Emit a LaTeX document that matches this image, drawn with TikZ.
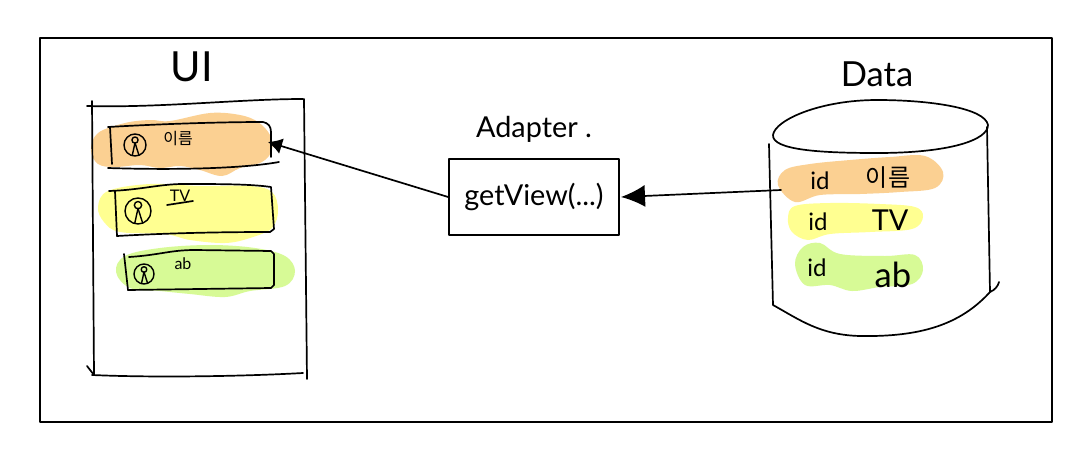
\documentclass[tikz,border=0pt]{standalone}
\usepackage{fontspec}
\setmainfont{Lato}
\newfontfamily\krfont{Noto Sans CJK KR}
\usetikzlibrary{arrows.meta}
\definecolor{blobOrange}{RGB}{251,208,146}
\definecolor{blobYellow}{RGB}{255,255,145}
\definecolor{blobGreen}{RGB}{215,250,150}
\tikzset{
	hand/.style={line width=0.85pt, line cap=round, line join=round},
	word/.style={inner sep=0pt, font=\large},
	smallword/.style={inner sep=0pt, font=\footnotesize}
}
\def\personicon(#1,#2)(#3){\begin{scope}[shift={(#1,#2)},hand,line width=0.7pt]
	\draw (0,0) circle (#3);
	\draw (0,{-0.45*#3}) circle ({0.28*#3});
	\draw (0,{-0.2*#3}) -- ({-0.25*#3},{0.95*#3});
	\draw (0,{-0.2*#3}) -- ({0.35*#3},{0.9*#3});
\end{scope}}

\begin{document}
\begin{tikzpicture}[x=0.5pt, y=-0.5pt]
		%%%%% START %%%%%
		\useasboundingbox (0, 0) rectangle (1089, 467);
		\fill[white] (0, 0) rectangle (1089, 467);
		
		\draw[hand] (40, 38) rectangle (1052, 422);
		
		% colour behind the rows
		\fill[blobOrange] plot[smooth cycle, tension=0.6] coordinates {(91, 150) (98, 133) (125, 123) (150, 120) (170, 121) (210, 113) (240, 115) (258, 122) (270, 135) (272, 150) (262, 162) (240, 168) (222, 176) (200, 170) (180, 166) (160, 168) (140, 165) (115, 167) (98, 164)};
		\fill[blobYellow] plot[smooth cycle, tension=0.6] coordinates {(98, 207) (108, 191) (150, 184) (200, 186) (250, 186) (272, 192) (278, 210) (272, 228) (250, 238) (225, 243) (190, 240) (165, 234) (120, 232) (104, 222)};
		\fill[blobGreen] plot[smooth cycle, tension=0.6] coordinates {(116, 272) (125, 256) (160, 248) (210, 245) (255, 248) (285, 256) (295, 271) (285, 286) (250, 291) (225, 297) (190, 294) (160, 291) (130, 288)};
		
		% ui
		\node[word, font=\huge] (uilabel) at (192, 67) {UI};
		\draw[hand] (87, 106) .. controls (160, 108) and (240, 99) .. (303, 99);
		\draw[hand] (92, 101) -- (94, 375) -- (87, 366);
		\draw[hand] (304, 99) -- (307, 379);
		\draw[hand] (92, 375) .. controls (160, 378) and (250, 376) .. (303, 373);
		
		\draw[hand] (108, 127) .. controls (160, 124) and (220, 122) .. (263, 122) .. controls (268, 123) and (271, 126) .. (271, 132) -- (271, 157);
		\draw[hand] (110, 127) -- (112, 164);
		\draw[hand] (108, 168) .. controls (170, 170) and (240, 169) .. (279, 162);
		\personicon(135, 145)(11)
		\node[smallword, font=\krfont\footnotesize] (uiname) at (178, 139) {이름};
		
		\draw[hand] (109, 191) .. controls (140, 190) and (160, 184) .. (183, 184) .. controls (220, 184) and (250, 184) .. (271, 187) -- (274, 229) -- (270, 232) .. controls (220, 232) and (170, 233) .. (117, 236);
		\draw[hand] (115, 191) -- (117, 236);
		\personicon(138, 211)(13)
		\node[smallword] (uitv) at (180, 196) {TV};
		\draw[hand] (167, 205) -- (193, 201);
		
		\draw[hand] (129, 257) .. controls (160, 255) and (170, 250) .. (195, 250) -- (271, 251) -- (274, 254) -- (274, 285) -- (271, 288) -- (128, 290);
		\draw[hand] (124, 254) -- (128, 290);
		\personicon(144, 274)(10)
		\node[smallword] (uiab) at (183, 264) {ab};
		
		% adapter
		\node[word, font=\Large] (adapterlabel) at (534, 129) {Adapter .};
		\node[draw, hand, minimum width=85pt, minimum height=38pt, inner sep=0pt, font=\Large] (getview) at (534, 197) {getView(...)};
		
		% data
		\node[word, font=\LARGE] (datalabel) at (877, 74) {Data};
		\fill[blobOrange] plot[smooth cycle, tension=0.6] coordinates {(778, 185) (785, 170) (810, 164) (850, 160) (890, 157) (925, 156) (943, 172) (935, 188) (900, 192) (860, 194) (820, 195) (795, 202)};
		\fill[blobYellow] plot[smooth cycle, tension=0.6] coordinates {(788, 218) (795, 206) (830, 203) (880, 204) (915, 207) (923, 217) (912, 229) (870, 232) (830, 234) (808, 240) (792, 232)};
		\fill[blobGreen] plot[smooth cycle, tension=0.6] coordinates {(795, 264) (803, 247) (820, 243) (840, 254) (885, 256) (915, 255) (923, 270) (912, 284) (880, 287) (852, 291) (830, 285) (805, 285)};
		
		\draw[hand] (773, 135) .. controls (775, 120) and (820, 100) .. (877, 100) .. controls (930, 100) and (985, 108) .. (988, 125) .. controls (988, 140) and (950, 153) .. (877, 153) .. controls (820, 153) and (772, 150) .. (773, 135);
		\draw[hand] (769, 144) -- (773, 305) .. controls (800, 320) and (820, 335) .. (860, 336) .. controls (920, 337) and (960, 325) .. (990, 292) .. controls (995, 290) and (998, 286) .. (999, 282);
		\draw[hand] (987, 127) -- (990, 292);
		
		\node[word] (dataida) at (820, 181) {id};
		\node[word, font=\krfont\large] (dataname) at (888, 178) {이름};
		\node[word] (dataidb) at (818, 222) {id};
		\node[word, font=\Large] (datatv) at (890, 220) {TV};
		\node[word] (dataidc) at (817, 268) {id};
		\node[word, font=\LARGE] (dataab) at (893, 275) {ab};
		
		% arrows
		\coordinate (uitip) at (268, 142);
		\coordinate (datastart) at (781, 190);
		\coordinate (gettip) at (621, 197);
		\draw[hand, -{Latex[length=7pt, width=8pt]}] (getview.west) -- (uitip);
		\draw[hand, -{Latex[length=12pt, width=11pt]}] (datastart) -- (gettip);
		%%%%% END %%%%%
	\end{tikzpicture}
\end{document}
